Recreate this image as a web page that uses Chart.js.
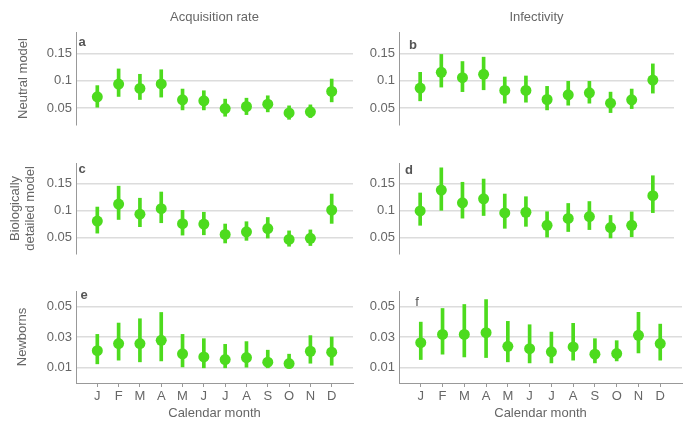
<!DOCTYPE html>
<html lang="en">
<head>
    <meta charset="UTF-8">
    <title>Seasonal parameters by calendar month</title>
    <script src="https://cdn.jsdelivr.net/npm/chart.js"></script>
    <style>
        body { margin: 0; background: #fff; }
        #wrap { position: relative; width: 700px; height: 431px; }
        #wrap canvas { position: absolute; }
    </style>
</head>
<body>
<div id="wrap"></div>

<script>
    // months on the x axis
    const months = ['J', 'F', 'M', 'A', 'M', 'J', 'J', 'A', 'S', 'O', 'N', 'D'];

    // y tick values
    const ticksUpper = [0.05, 0.1, 0.15];
    const ticksNewborn = [0.01, 0.03, 0.05];

    // a: neutral model, acquisition rate
    const acqNeutral = [0.0706, 0.0939, 0.0859, 0.094, 0.065, 0.0632, 0.049, 0.0528, 0.057, 0.041, 0.043, 0.0804];
    const acqNeutralLo = [0.0515, 0.0712, 0.0656, 0.070, 0.0466, 0.0466, 0.035, 0.038, 0.043, 0.0294, 0.0325, 0.0613];
    const acqNeutralHi = [0.091, 0.1215, 0.1117, 0.120, 0.0847, 0.0816, 0.0663, 0.068, 0.0724, 0.054, 0.0558, 0.103];

    // b: neutral model, infectivity
    const infNeutral = [0.0865, 0.1153, 0.1055, 0.1117, 0.0822, 0.0822, 0.0656, 0.0742, 0.0779, 0.0589, 0.065, 0.1012];
    const infNeutralLo = [0.0632, 0.0883, 0.080, 0.0834, 0.0589, 0.0607, 0.0466, 0.0552, 0.0589, 0.0417, 0.049, 0.0773];
    const infNeutralHi = [0.1153, 0.148, 0.135, 0.143, 0.1067, 0.1086, 0.0896, 0.0988, 0.0988, 0.0791, 0.0847, 0.1307];

    // c: biologically detailed model, acquisition rate
    const acqDetailed = [0.0805, 0.1122, 0.0933, 0.1037, 0.0756, 0.075, 0.0555, 0.0604, 0.0665, 0.0463, 0.0482, 0.1012];
    const acqDetailedLo = [0.058, 0.0835, 0.070, 0.0774, 0.0543, 0.0549, 0.0396, 0.0445, 0.0488, 0.0335, 0.0348, 0.0762];
    const acqDetailedHi = [0.1067, 0.1457, 0.1232, 0.1348, 0.1006, 0.097, 0.075, 0.0793, 0.0872, 0.0622, 0.064, 0.131];

    // d: biologically detailed model, infectivity
    const infDetailed = [0.0994, 0.1384, 0.1146, 0.122, 0.0957, 0.097, 0.0726, 0.0854, 0.089, 0.0683, 0.0726, 0.128];
    const infDetailedLo = [0.0726, 0.1006, 0.086, 0.0909, 0.067, 0.0707, 0.0506, 0.061, 0.0646, 0.049, 0.0512, 0.0963];
    const infDetailedHi = [0.133, 0.18, 0.153, 0.159, 0.131, 0.126, 0.098, 0.1134, 0.117, 0.091, 0.0976, 0.1652];

    // e: newborns, acquisition rate
    const acqNewborn = [0.0211, 0.0257, 0.0257, 0.0278, 0.019, 0.017, 0.0153, 0.0166, 0.0136, 0.0127, 0.0207, 0.0201];
    const acqNewbornLo = [0.0125, 0.0149, 0.0138, 0.0144, 0.0105, 0.0099, 0.0099, 0.0103, 0.0099, 0.0099, 0.0129, 0.0116];
    const acqNewbornHi = [0.0317, 0.0391, 0.0419, 0.046, 0.0317, 0.0289, 0.0252, 0.027, 0.0214, 0.0188, 0.0309, 0.030];

    // f: newborns, infectivity
    const infNewborn = [0.0263, 0.0317, 0.0317, 0.0328, 0.0239, 0.0224, 0.0203, 0.0235, 0.0188, 0.0192, 0.0311, 0.0257];
    const infNewbornLo = [0.0153, 0.0188, 0.017, 0.0166, 0.0138, 0.0131, 0.0131, 0.0149, 0.0131, 0.0144, 0.0196, 0.0149];
    const infNewbornHi = [0.0397, 0.0486, 0.0512, 0.0544, 0.0402, 0.038, 0.0332, 0.0389, 0.0289, 0.0276, 0.0461, 0.0384];

    const green = '#4ddb1e';
    const textGrey = '#666';

    Chart.defaults.font.family = '"Liberation Sans", Arial, sans-serif';
    Chart.defaults.font.size = 13;
    Chart.defaults.color = textGrey;

    // column headings and panel letters
    const panelText = {
        id: 'panelText',
        afterDraw(chart, args, opts) {
            const ctx = chart.ctx;
            const area = chart.chartArea;
            ctx.save();
            ctx.textAlign = 'center';
            ctx.textBaseline = 'middle';
            if (opts.heading) {
                ctx.fillStyle = textGrey;
                ctx.font = '13px "Liberation Sans", Arial, sans-serif';
                ctx.fillText(opts.heading, (area.left + area.right) / 2, 17);
            }
            ctx.fillStyle = '#555';
            ctx.font = (opts.bold ? 'bold ' : '') + '13px "Liberation Sans", Arial, sans-serif';
            ctx.fillText(opts.letter, area.left + opts.dx, area.top + opts.dy);
            ctx.restore();
        }
    };

    const panels = [
        { mean: acqNeutral, lo: acqNeutralLo, hi: acqNeutralHi, letter: 'a', dx: 6, dy: 10, bold: true,
          heading: 'Acquisition rate', yTitle: 'Neutral model', titlePad: 15.5, row: 0, col: 0 },
        { mean: infNeutral, lo: infNeutralLo, hi: infNeutralHi, letter: 'b', dx: 14, dy: 13, bold: true,
          heading: 'Infectivity', row: 0, col: 1 },
        { mean: acqDetailed, lo: acqDetailedLo, hi: acqDetailedHi, letter: 'c', dx: 6, dy: 6, bold: true,
          yTitle: ['Biologically', 'detailed model'], titlePad: 7.5, row: 1, col: 0 },
        { mean: infDetailed, lo: infDetailedLo, hi: infDetailedHi, letter: 'd', dx: 10, dy: 7, bold: true,
          row: 1, col: 1 },
        { mean: acqNewborn, lo: acqNewbornLo, hi: acqNewbornHi, letter: 'e', dx: 8, dy: 4, bold: true,
          yTitle: 'Newborns', titlePad: 14.5, row: 2, col: 0 },
        { mean: infNewborn, lo: infNewbornLo, hi: infNewbornHi, letter: 'f', dx: 18, dy: 11, bold: false,
          row: 2, col: 1 }
    ];

    // canvas placement per row / column
    const rows = [
        { top: 0, height: 130, padTop: 32, padBottom: 5, min: 0.019, max: 0.189, ticks: ticksUpper, xAxis: false },
        { top: 140, height: 120, padTop: 23, padBottom: 6, min: 0.019, max: 0.189, ticks: ticksUpper, xAxis: false },
        { top: 270, height: 161, padTop: 21, padBottom: 0, min: 0, max: 0.06, ticks: ticksNewborn, xAxis: true }
    ];
    const cols = [
        { left: 0, width: 360, yWidth: 76, padRight: [7, 7, 7] },
        { left: 356, width: 340, yWidth: 43, padRight: [22, 22, 14] }
    ];

    const wrap = document.getElementById('wrap');

    panels.forEach(p => {
        const r = rows[p.row];
        const c = cols[p.col];
        const canvas = document.createElement('canvas');
        canvas.width = c.width;
        canvas.height = r.height;
        canvas.style.left = c.left + 'px';
        canvas.style.top = r.top + 'px';
        canvas.style.width = c.width + 'px';
        canvas.style.height = r.height + 'px';
        wrap.appendChild(canvas);

        new Chart(canvas.getContext('2d'), {
            type: 'bar',
            data: {
                datasets: [
                    {
                        type: 'scatter',
                        data: p.mean.map((v, i) => ({ x: i, y: v })),
                        backgroundColor: green,
                        borderColor: green,
                        pointRadius: 5.5,
                        pointBorderWidth: 0,
                        order: 0
                    },
                    {
                        type: 'bar',
                        data: p.lo.map((v, i) => ({ x: i, y: [v, p.hi[i]] })),
                        backgroundColor: green,
                        borderWidth: 0,
                        barThickness: 3,
                        order: 1
                    }
                ]
            },
            options: {
                responsive: false,
                animation: false,
                events: [],
                layout: {
                    autoPadding: false,
                    padding: { top: r.padTop, bottom: r.padBottom, left: 0, right: c.padRight[p.row] }
                },
                plugins: {
                    legend: { display: false },
                    tooltip: { enabled: false },
                    panelText: { letter: p.letter, dx: p.dx, dy: p.dy, bold: p.bold, heading: p.heading }
                },
                scales: {
                    x: {
                        type: 'linear',
                        min: -1,
                        max: 12,
                        offset: false,
                        display: r.xAxis,
                        afterFit: s => {
                            s.height = r.xAxis ? 48 : 0;
                            s.paddingLeft = 0;
                            s.paddingRight = 0;
                        },
                        afterBuildTicks: s => { s.ticks = months.map((m, i) => ({ value: i })); },
                        grid: { display: true, drawOnChartArea: false, drawTicks: true, tickLength: 4, color: '#999', offset: false },
                        border: { display: true, color: '#999' },
                        ticks: { autoSkip: false, maxRotation: 0, padding: 2, callback: v => months[v] },
                        title: { display: true, text: 'Calendar month', padding: { top: 4, bottom: 10 } }
                    },
                    y: {
                        min: r.min,
                        max: r.max,
                        afterFit: s => {
                            // fixed axis width, no extra room for end labels
                            s.width = c.yWidth;
                            s.paddingTop = 0;
                            s.paddingBottom = 0;
                        },
                        afterBuildTicks: s => { s.ticks = r.ticks.map(v => ({ value: v })); },
                        grid: { color: '#dcdcdc', lineWidth: 1.5, drawTicks: false },
                        border: { display: true, color: '#999' },
                        ticks: { padding: 4, callback: v => String(v) },
                        title: p.yTitle ? {
                            display: true,
                            text: p.yTitle,
                            font: { size: 13, lineHeight: 1.15 },
                            padding: { top: p.titlePad, bottom: 0 }
                        } : { display: false }
                    }
                }
            },
            plugins: [panelText]
        });
    });
</script>
</body>
</html>
